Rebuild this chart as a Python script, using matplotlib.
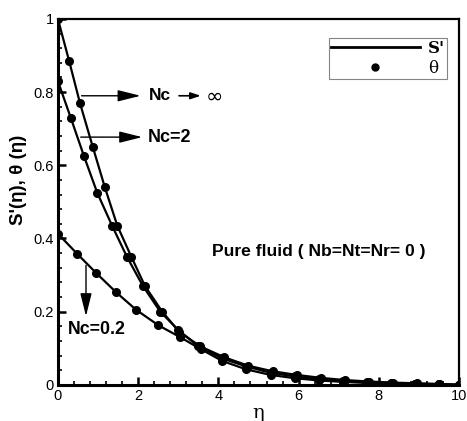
import matplotlib
matplotlib.use("Agg")
import matplotlib.pyplot as plt
from matplotlib.ticker import MultipleLocator
from matplotlib.lines import Line2D

# data
eta_inf = [0, 0.28, 0.55, 0.87, 1.17, 1.48, 1.83, 2.17, 2.6, 3.02, 3.55, 4.15,
           4.75, 5.35, 5.95, 6.55, 7.15, 7.75, 8.35, 8.95, 9.5, 10]
val_inf = [1.0, 0.885, 0.77, 0.65, 0.54, 0.435, 0.35, 0.27, 0.20, 0.145, 0.105, 0.075,
           0.052, 0.037, 0.027, 0.019, 0.013, 0.009, 0.006, 0.004, 0.002, 0.0]

eta_nc2 = [0, 0.32, 0.65, 0.98, 1.35, 1.72, 2.12, 2.55, 3.0, 3.5, 4.1, 4.7,
           5.3, 5.9, 6.5, 7.1, 7.7, 8.3, 8.9, 9.5, 10]
val_nc2 = [0.83, 0.73, 0.625, 0.525, 0.435, 0.35, 0.27, 0.20, 0.15, 0.105, 0.072, 0.05,
           0.033, 0.023, 0.015, 0.010, 0.007, 0.005, 0.003, 0.002, 0.0]

eta_nc02 = [0, 0.48, 0.95, 1.45, 1.95, 2.5, 3.05, 3.57, 4.1, 4.7, 5.3, 5.9,
            6.5, 7.1, 7.7, 8.3, 8.9, 9.5, 10]
val_nc02 = [0.413, 0.358, 0.306, 0.253, 0.205, 0.163, 0.13, 0.097, 0.065, 0.042, 0.027, 0.018,
            0.012, 0.008, 0.005, 0.003, 0.002, 0.001, 0.0]

curves = [(eta_inf, val_inf), (eta_nc2, val_nc2), (eta_nc02, val_nc02)]

fig = plt.figure(figsize=(4.67, 4.21), dpi=100)
ax = fig.add_axes([0.124, 0.086, 0.859, 0.869])

for x, y in curves:
    ax.plot(x, y, color='black', lw=1.6)
    ax.plot(x, y, 'o', color='black', ms=5.5, ls='none')

ax.set_xlim(0, 10)
ax.set_ylim(0, 1)
ax.xaxis.set_minor_locator(MultipleLocator(0.4))
ax.yaxis.set_minor_locator(MultipleLocator(0.04))
ax.set_xticks([0, 2, 4, 6, 8, 10])
ax.set_xticklabels(['0', '2', '4', '6', '8', '10'])
ax.set_yticks([0, 0.2, 0.4, 0.6, 0.8, 1])
ax.set_yticklabels(['0', '0.2', '0.4', '0.6', '0.8', '1'])
ax.tick_params(which='both', direction='in', top=False, right=False,
               labelsize=10.5, width=1.2, pad=3)
ax.tick_params(which='major', length=6, width=1.8)
ax.tick_params(which='minor', length=3)
for t in ax.get_xticklabels() + ax.get_yticklabels():
    t.set_family('Liberation Sans')

for side in ['left', 'bottom']:
    ax.spines[side].set_linewidth(2.2)
for side in ['top', 'right']:
    ax.spines[side].set_linewidth(1.6)

ax.set_xlabel('η', fontsize=14, family='DejaVu Serif', labelpad=1)
ax.set_ylabel("S'(η), θ (η)", fontsize=13.5, fontweight='bold', family='Liberation Sans')
ax.yaxis.set_label_coords(-0.078, 0.56)

# annotations
arrow_kw = dict(arrowstyle='-|>,head_length=1.4,head_width=0.35', color='black', lw=1.0)
ax.annotate('', xy=(2.13, 0.79), xytext=(0.52, 0.79), arrowprops=arrow_kw)
ax.text(2.28, 0.79, 'Nc', fontsize=12.5, fontweight='bold', family='Liberation Sans',
        va='center', ha='left')
ax.annotate('', xy=(3.63, 0.79), xytext=(2.95, 0.79),
            arrowprops=dict(arrowstyle='-|>,head_length=0.6,head_width=0.2',
                            color='black', lw=1.2))
ax.text(3.68, 0.787, '∞', fontsize=15, family='DejaVu Sans', va='center', ha='left')

ax.annotate('', xy=(2.17, 0.677), xytext=(0.5, 0.677), arrowprops=arrow_kw)
ax.text(2.25, 0.677, 'Nc=2', fontsize=13, fontweight='bold', family='Liberation Sans',
        va='center', ha='left')

ax.annotate('', xy=(0.7, 0.18), xytext=(0.7, 0.334), arrowprops=arrow_kw)
ax.text(0.97, 0.152, 'Nc=0.2', fontsize=12.8, fontweight='bold', family='Liberation Sans',
        va='center', ha='center')

ax.text(3.85, 0.365, 'Pure fluid ( Nb=Nt=Nr= 0 )', fontsize=12.6, fontweight='bold',
        family='Liberation Sans', va='center', ha='left')

# legend
handles = [Line2D([], [], color='black', lw=2),
           Line2D([], [], color='black', marker='o', ms=5, ls='none')]
leg = ax.legend(handles, ["S'", 'θ'], loc='upper right', bbox_to_anchor=(0.970, 0.948),
                borderaxespad=0, frameon=True, fancybox=False, edgecolor='#666666',
                handlelength=5.3, handletextpad=0.5, borderpad=0.12, labelspacing=0.2,
                prop={'family': 'DejaVu Serif', 'size': 12})
leg.get_frame().set_linewidth(0.8)
leg.get_texts()[0].set_fontweight('bold')

fig.savefig('out.png', dpi=100)
